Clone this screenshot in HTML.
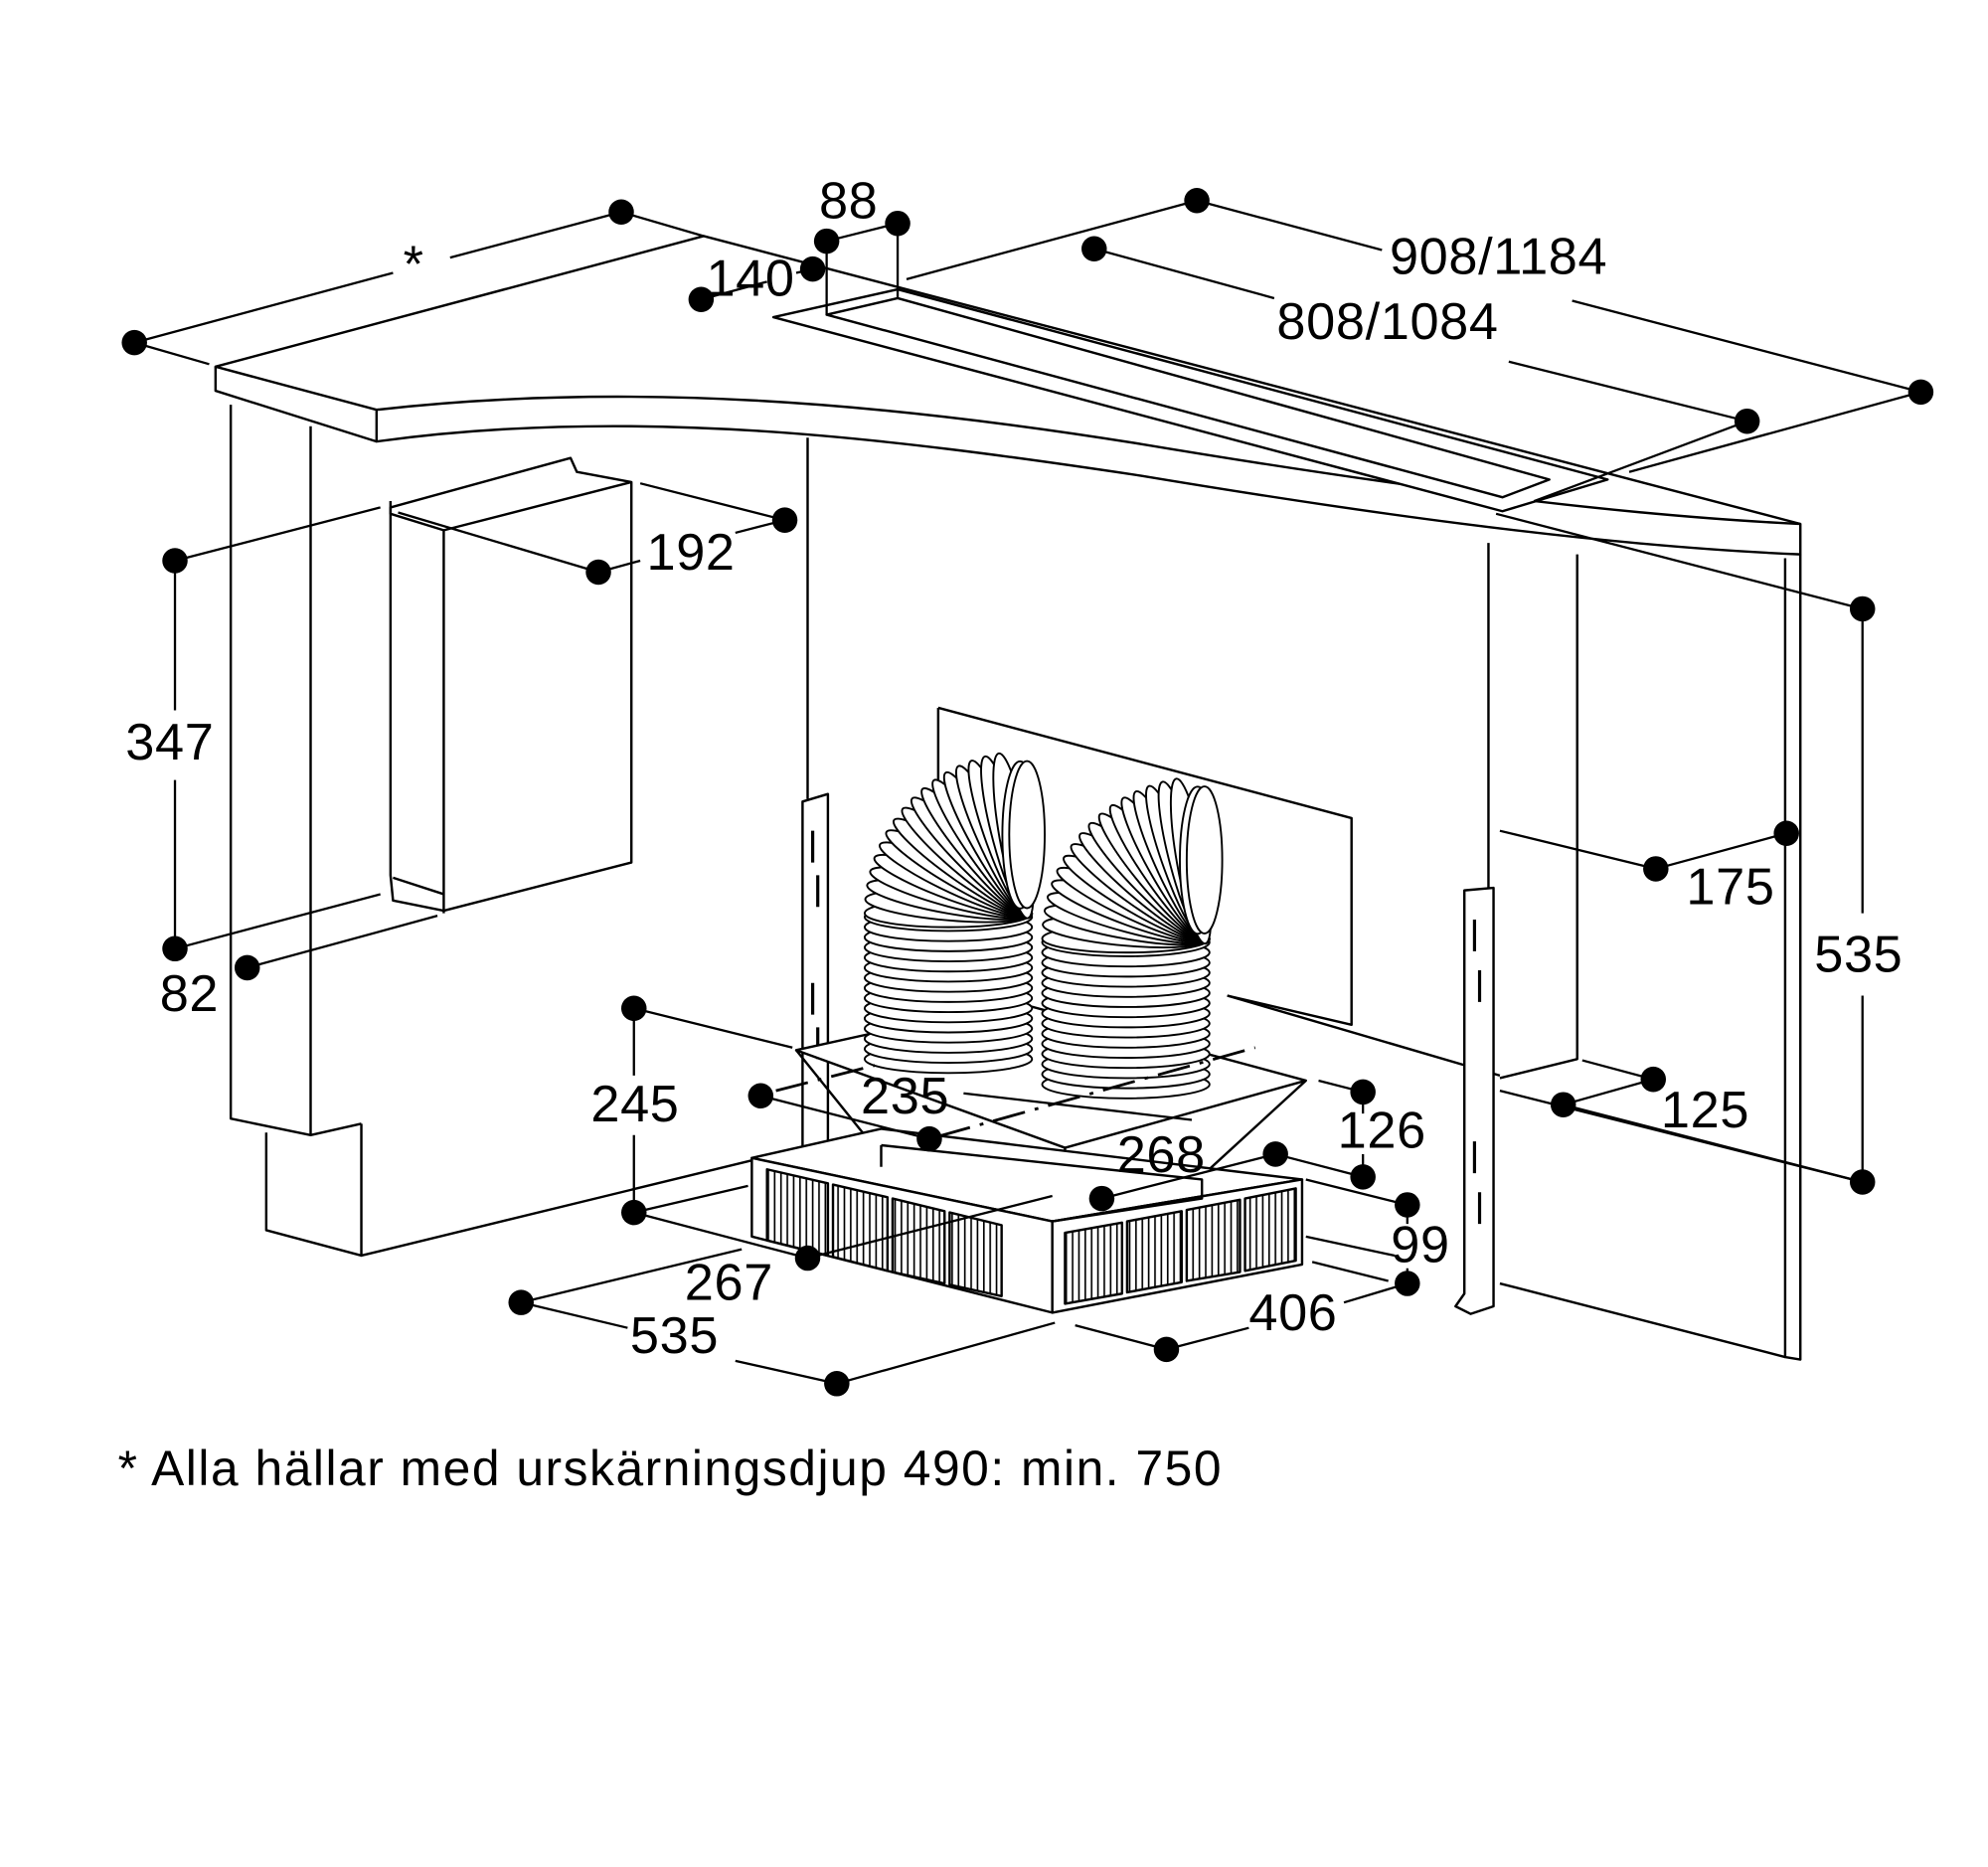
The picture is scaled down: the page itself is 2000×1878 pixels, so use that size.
<!DOCTYPE html>
<html><head><meta charset="utf-8"><style>
html,body{margin:0;padding:0;background:#fff}
svg{display:block}
text{font-family:"Liberation Sans",sans-serif;font-size:41px;letter-spacing:0.5px;fill:#000}
</style></head><body>
<svg id="s" width="2000" height="1878" viewBox="0 0 1568 1472" xmlns="http://www.w3.org/2000/svg">
<defs>
<pattern id="hat" width="5" height="10" patternUnits="userSpaceOnUse"><rect width="5" height="10" fill="#fff"/><line x1="1" y1="0" x2="1" y2="10" stroke="#000" stroke-width="1.3"/></pattern>
</defs>
<g fill="none" stroke="#000" stroke-width="1.9" stroke-linejoin="round">
<path d="M170,289 L555,186 L1420,413 L1420,437 C1250,430 1050,400 900,375 C700,345 500,320 297,348 L297,323 L170,289 Z" fill="#fff"/>
<path d="M170,289 L170,308 L297,348"/>
<path d="M297,323 C500,300 700,318 900,350 C1050,375 1250,405 1420,413"/>
<path d="M610,250 L708,228 L1268,378 L1185,403 Z" fill="#fff"/>
<path d="M652,248 L708,235 L1222,378 L1185,392 Z"/>
<path d="M182,319 L182,882 L245,895 L285,886"/>
<path d="M245,336 L245,895"/>
<path d="M210,893 L210,970 L285,990 L285,886"/>
<path d="M285,990 L605,912"/>
<path d="M637,345 L637,630"/>
<path d="M1174,428 L1174,850"/>
<path d="M1244,437 L1244,835 L1183,850"/>
<path d="M1408,440 L1408,1070 L1420,1072 L1420,437"/>
<path d="M1183,1012 L1408,1070"/>
<path d="M968,785 L1183,848"/>
<path d="M633,632 L653,626 L653,905 L633,910 Z" fill="#fff"/>
<path d="M641,655 L641,680 M645,690 L645,715 M641,775 L641,800 M645,810 L645,835" stroke-width="2.5"/>
<path d="M1155,702 L1178,700 L1178,1030 L1160,1036 L1148,1030 L1155,1020 Z" fill="#fff"/>
<path d="M1163,725 L1163,750 M1167,765 L1167,790 M1163,900 L1163,925 M1167,940 L1167,965" stroke-width="2.5"/>
<path d="M308,400 L450,361 L455,372 L498,380 L498,680 L350,718 L310,710 L308,690 Z" fill="#fff"/>
<path d="M308,395 L308,405 L350,418 L350,720"/>
<path d="M350,418 L498,380"/>
<path d="M310,692 L350,705"/>
<path d="M740,558 L1066,645 L1066,808 L968,785 M740,558 L740,620"/>
<path d="M628,828 L800,790 L1030,852 L840,905 Z" fill="#fff"/>
<path d="M628,828 L690,905 M1030,852 L945,930 M840,905 L840,940"/>
<path d="M593,913 L695,890 L1027,930 L830,963 Z" fill="#fff"/>
<path d="M593,913 L593,975 L830,1035 L830,963 Z" fill="#fff"/>
<path d="M830,963 L1027,930 L1027,997 L830,1035 Z" fill="#fff"/>
<path d="M695,903 L948,930 L948,945 L830,963 M695,903 L695,920"/>
<path d="M605,922 L653,933 L653,990 L605,978 Z M657,934 L700,944 L700,1002 L657,991 Z M704,945 L745,955 L745,1012 L704,1003 Z M749,956 L790,966 L790,1022 L749,1013 Z" fill="url(#hat)"/>
<path d="M840,972 L885,964 L885,1020 L840,1028 Z M889,963 L932,955 L932,1011 L889,1019 Z M936,954 L978,946 L978,1003 L936,1010 Z M982,945 L1022,937 L1022,994 L982,1002 Z" fill="url(#hat)"/>
</g>
<g id="ducts" fill="#fff" stroke="#000" stroke-width="1.5"></g>
<g fill="none" stroke="#000" stroke-width="2.2" stroke-dasharray="26,8,3,8">
<path d="M612,860 L690,840 M740,896 L990,826"/>
</g>
<g fill="none" stroke="#000" stroke-width="1.8">
<path d="M106,270 L310,215 M355,203 L490,167 M106,270 L165,287 M490,167 L555,186"/>
<path d="M652,190 L708,176 M652,190 L652,248 M708,176 L708,235"/>
<path d="M553,236 L605,222 M628,215 L641,212"/>
<path d="M944,158 L1090,197 M1240,237 L1515,309 M715,220 L944,158 M1285,372 L1515,309"/>
<path d="M863,196 L1005,235 M1190,285 L1378,332 M1210,395 L1378,332"/>
<path d="M505,381 L619,410 M580,420 L619,410 M314,404 L472,451 M472,451 L505,442"/>
<path d="M138,442 L138,560 M138,615 L138,748 M138,442 L300,400 M138,748 L300,705 M195,763 L345,722"/>
<path d="M1469,480 L1469,720 M1469,785 L1469,932 M1180,405 L1469,480 M1183,860 L1469,932"/>
<path d="M1183,655 L1306,685 M1306,685 L1409,657"/>
<path d="M1233,871 L1304,851 M1248,836 L1304,851 M1233,871 L1469,932"/>
<path d="M500,795 L500,848 M500,895 L500,956 M500,795 L625,826"/>
<path d="M600,864 L733,898 M760,862 L940,883"/>
<path d="M869,945 L1006,910 M1006,910 L1075,928"/>
<path d="M1075,861 L1075,878 M1075,910 L1075,928 M1040,852 L1075,861"/>
<path d="M1110,950 L1110,965 M1110,1000 L1110,1012 M1030,930 L1110,950 M1030,975 L1100,990"/>
<path d="M920,1064 L985,1047 M1060,1027 L1110,1012 M848,1045 L920,1064 M1035,995 L1095,1010"/>
<path d="M500,956 L637,992 M637,992 L830,943 M500,956 L590,935"/>
<path d="M411,1027 L585,985 M411,1027 L495,1047 M580,1073 L660,1091 M660,1091 L832,1043"/>
</g>
<g fill="#000">
<circle cx="106" cy="270" r="10"/><circle cx="490" cy="167" r="10"/>
<circle cx="652" cy="190" r="10"/><circle cx="708" cy="176" r="10"/>
<circle cx="553" cy="236" r="10"/><circle cx="641" cy="212" r="10"/>
<circle cx="944" cy="158" r="10"/><circle cx="1515" cy="309" r="10"/>
<circle cx="863" cy="196" r="10"/><circle cx="1378" cy="332" r="10"/>
<circle cx="619" cy="410" r="10"/><circle cx="472" cy="451" r="10"/>
<circle cx="138" cy="442" r="10"/><circle cx="138" cy="748" r="10"/><circle cx="195" cy="763" r="10"/>
<circle cx="1469" cy="480" r="10"/><circle cx="1469" cy="932" r="10"/>
<circle cx="1306" cy="685" r="10"/><circle cx="1409" cy="657" r="10"/>
<circle cx="1233" cy="871" r="10"/><circle cx="1304" cy="851" r="10"/>
<circle cx="500" cy="795" r="10"/><circle cx="500" cy="956" r="10"/>
<circle cx="600" cy="864" r="10"/><circle cx="733" cy="898" r="10"/>
<circle cx="869" cy="945" r="10"/><circle cx="1006" cy="910" r="10"/>
<circle cx="1075" cy="861" r="10"/><circle cx="1075" cy="928" r="10"/>
<circle cx="1110" cy="950" r="10"/><circle cx="1110" cy="1012" r="10"/>
<circle cx="920" cy="1064" r="10"/><circle cx="637" cy="992" r="10"/>
<circle cx="411" cy="1027" r="10"/><circle cx="660" cy="1091" r="10"/>
</g>
<g>
<text x="318" y="222">*</text>
<text x="646" y="172">88</text>
<text x="557" y="233">140</text>
<text x="1096" y="216">908/1184</text>
<text x="1007" y="267">808/1084</text>
<text x="510" y="449">192</text>
<text x="99" y="599">347</text>
<text x="126" y="797">82</text>
<text x="1431" y="766">535</text>
<text x="1330" y="713">175</text>
<text x="1310" y="889">125</text>
<text x="466" y="884">245</text>
<text x="679" y="878">235</text>
<text x="881" y="924">268</text>
<text x="1055" y="905">126</text>
<text x="1097" y="995">99</text>
<text x="985" y="1049">406</text>
<text x="540" y="1025">267</text>
<text x="497" y="1067">535</text>
<text x="93" y="1171" style="font-size:39px;letter-spacing:1.2px">* Alla hällar med urskärningsdjup 490: min. 750</text>
</g>
<script>
(function(){
var g=document.getElementById('ducts'),NS='http://www.w3.org/2000/svg';
function duct(dx,dy){
 var items=[];
 for(var y=835;y>=720;y-=8){items.push([748,y,0]);}
 var cx=810,cy=720,r=62;
 for(var a=180;a<=272;a+=5){var t=a*Math.PI/180;items.push([cx+r*Math.cos(t),cy+r*Math.sin(t),a-180]);}
 items.forEach(function(p){
  var e=document.createElementNS(NS,'ellipse');
  e.setAttribute('cx',0);e.setAttribute('cy',0);e.setAttribute('rx',66);e.setAttribute('ry',p[2]>80?58:11);
  if(p[2]>80){e.setAttribute('rx',14);}
  e.setAttribute('transform','translate('+(p[0]+dx)+','+(p[1]+dy)+') rotate('+(p[2]>80?0:p[2])+')');
  g.appendChild(e);
 });
}
duct(0,0);duct(140,20);
})();
</script>
</svg>
</body></html>
